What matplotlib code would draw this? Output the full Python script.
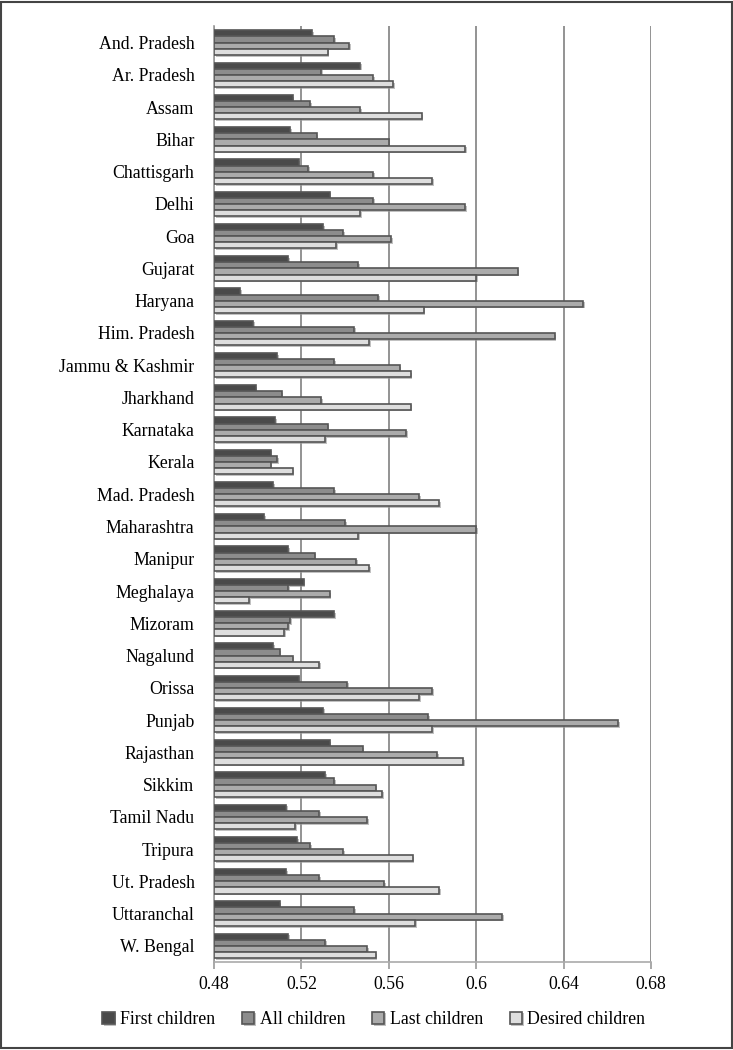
import matplotlib
matplotlib.use("Agg")
import matplotlib.pyplot as plt
import matplotlib.patheffects as pe
from matplotlib.patches import Rectangle
import numpy as np

states = ["And. Pradesh", "Ar. Pradesh", "Assam", "Bihar", "Chattisgarh", "Delhi",
          "Goa", "Gujarat", "Haryana", "Him. Pradesh", "Jammu & Kashmir", "Jharkhand",
          "Karnataka", "Kerala", "Mad. Pradesh", "Maharashtra", "Manipur", "Meghalaya",
          "Mizoram", "Nagalund", "Orissa", "Punjab", "Rajasthan", "Sikkim",
          "Tamil Nadu", "Tripura", "Ut. Pradesh", "Uttaranchal", "W. Bengal"]

first = [0.525, 0.547, 0.516, 0.515, 0.519, 0.533, 0.530, 0.514, 0.492, 0.498,
         0.509, 0.499, 0.508, 0.506, 0.507, 0.503, 0.514, 0.521, 0.535, 0.507,
         0.519, 0.530, 0.533, 0.531, 0.513, 0.518, 0.513, 0.510, 0.514]
all_ch = [0.535, 0.529, 0.524, 0.527, 0.523, 0.553, 0.539, 0.546, 0.555, 0.544,
          0.535, 0.511, 0.532, 0.509, 0.535, 0.540, 0.526, 0.514, 0.515, 0.510,
          0.541, 0.578, 0.548, 0.535, 0.528, 0.524, 0.528, 0.544, 0.531]
last = [0.542, 0.553, 0.547, 0.560, 0.553, 0.595, 0.561, 0.619, 0.649, 0.636,
        0.565, 0.529, 0.568, 0.506, 0.574, 0.600, 0.545, 0.533, 0.514, 0.516,
        0.580, 0.665, 0.582, 0.554, 0.550, 0.539, 0.558, 0.612, 0.550]
desired = [0.532, 0.562, 0.575, 0.595, 0.580, 0.547, 0.536, 0.600, 0.576, 0.551,
           0.570, 0.570, 0.531, 0.516, 0.583, 0.546, 0.551, 0.496, 0.512, 0.528,
           0.574, 0.580, 0.594, 0.557, 0.517, 0.571, 0.583, 0.572, 0.554]

series = [("First children", first, "#4a4a4a"),
          ("All children", all_ch, "#8c8c8c"),
          ("Last children", last, "#ababab"),
          ("Desired children", desired, "#dedede")]

plt.rcParams['font.family'] = ['Liberation Serif', 'DejaVu Serif']

fig = plt.figure(figsize=(7.33, 10.5), dpi=100)
ax = fig.add_axes([0.292, 0.0838, 0.596, 0.891])

base = 0.48
y = np.arange(len(states))
h = 0.19
shadow = [pe.SimplePatchShadow(offset=(1.2, -1.2), shadow_rgbFace="#999999", alpha=0.6), pe.Normal()]
for i, (name, vals, col) in enumerate(series):
    offs = (i - 1.5) * h
    w = [v - base for v in vals]
    bars = ax.barh(y + offs, w, height=h, left=base, color=col,
                   edgecolor="#555555", linewidth=1.2, label=name, zorder=3)
    for b in bars:
        b.set_path_effects(shadow)

ax.set_xlim(0.48, 0.68)
ax.set_ylim(len(states) - 0.5, -0.5)
ax.set_xticks([0.48, 0.52, 0.56, 0.6, 0.64, 0.68])
ax.set_xticklabels(["0.48", "0.52", "0.56", "0.6", "0.64", "0.68"])
ax.set_yticks(y)
ax.set_yticklabels(states)
ax.tick_params(axis="y", length=0, pad=14, labelsize=12.8)
ax.tick_params(axis="x", length=5, color="#999999", width=1.2, pad=5, labelsize=12.8)
ax.xaxis.grid(True, color="#8a8a8a", linewidth=1.3, zorder=0)
ax.set_axisbelow(True)
for s in ["top", "right"]:
    ax.spines[s].set_visible(False)
ax.spines["left"].set_color("#999999")
ax.spines["left"].set_linewidth(1.2)
ax.spines["bottom"].set_color("#aaaaaa")
ax.spines["bottom"].set_linewidth(1.2)

leg = fig.legend(loc="center", bbox_to_anchor=(0.51, 0.029), ncol=4, frameon=False,
                 fontsize=12.8, handlelength=0.7, handleheight=0.7, handletextpad=0.3,
                 columnspacing=1.5)

fig.patches.append(Rectangle((0.002, 0.002), 0.996, 0.996, transform=fig.transFigure,
                             fill=False, edgecolor="#444444", linewidth=1.5))

fig.savefig("out.png", dpi=100)
